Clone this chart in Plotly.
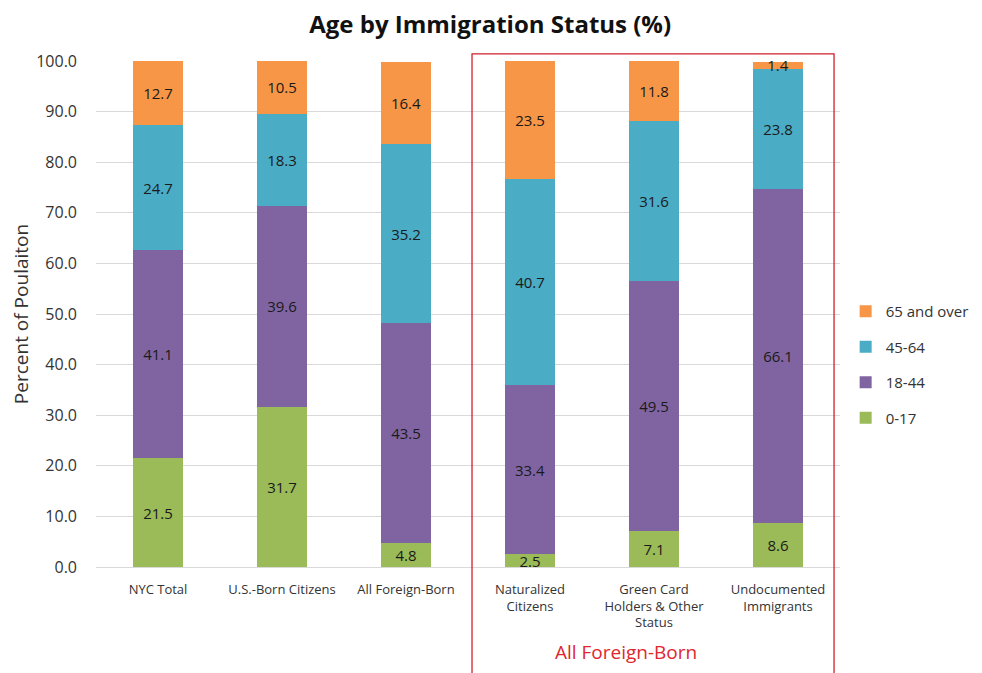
import plotly.graph_objects as go

categories = ["NYC Total", "U.S.-Born Citizens", "All Foreign-Born",
              "Naturalized<br>Citizens", "Green Card<br>Holders & Other<br>Status",
              "Undocumented<br>Immigrants"]
age_0_17 = [21.5, 31.7, 4.8, 2.5, 7.1, 8.6]
age_18_44 = [41.1, 39.6, 43.5, 33.4, 49.5, 66.1]
age_45_64 = [24.7, 18.3, 35.2, 40.7, 31.6, 23.8]
age_65_over = [12.7, 10.5, 16.4, 23.5, 11.8, 1.4]

series = [
    ("0-17", age_0_17, "#9BBB59", 4),
    ("18-44", age_18_44, "#8064A2", 3),
    ("45-64", age_45_64, "#4BACC6", 2),
    ("65 and over", age_65_over, "#F79646", 1),
]

fig = go.Figure()
for name, vals, color, rank in series:
    fig.add_trace(go.Bar(
        x=categories, y=vals, name=name, legendgroup=name, legendrank=rank,
        marker_color=color, marker_line_width=0,
        text=[f"{v:.1f}" for v in vals], textposition="inside",
        insidetextanchor="middle", constraintext="none",
        textfont=dict(family="Open Sans", size=15, color="#1a1a1a"),
    ))

fig.update_layout(
    barmode="stack", bargap=0.597,
    width=982, height=673,
    margin=dict(l=88, r=150, t=53, b=114, autoexpand=False),
    paper_bgcolor="white", plot_bgcolor="white",
    font=dict(family="Open Sans", color="#333333"),
    title=dict(text="<b>Age by Immigration Status (%)</b>", x=0.491, xanchor="center",
               yref="container", y=0.9747, yanchor="middle",
               font=dict(family="Open Sans", size=24, color="#111111")),
    legend=dict(traceorder="grouped", xref="container", x=0.853, xanchor="left",
                y=0.40, yanchor="middle",
                font=dict(family="Open Sans", size=15, color="#333333"),
                itemwidth=30, tracegroupgap=13),
    showlegend=True,
)
fig.update_xaxes(tickfont=dict(family="Open Sans", size=13, color="#333333"),
                 showline=True, linecolor="#d9d9d9", ticks="", ticklabelstandoff=10,
                 automargin=False)
fig.update_yaxes(range=[0, 100], dtick=10, tickformat=".1f",
                 showgrid=True, gridcolor="#d9d9d9", zeroline=False,
                 tickfont=dict(family="Open Sans", size=16, color="#333333"),
                 ticklabelstandoff=18, automargin=False,
                 title=dict(text="Percent of Poulaiton",
                            font=dict(family="Open Sans", size=19, color="#333333"),
                            standoff=14))

fig.add_shape(type="rect", xref="paper", yref="paper",
              x0=0.5054, x1=0.992, y0=-0.24, y1=1.014,
              line=dict(color="#D0202A", width=1.3), fillcolor="rgba(0,0,0,0)")
fig.add_annotation(text="All Foreign-Born", xref="paper", yref="paper",
                   x=0.712, y=-0.168, showarrow=False, xanchor="center", yanchor="middle",
                   font=dict(family="Open Sans", size=19, color="#E0262E"))

fig.write_html("out.html")
